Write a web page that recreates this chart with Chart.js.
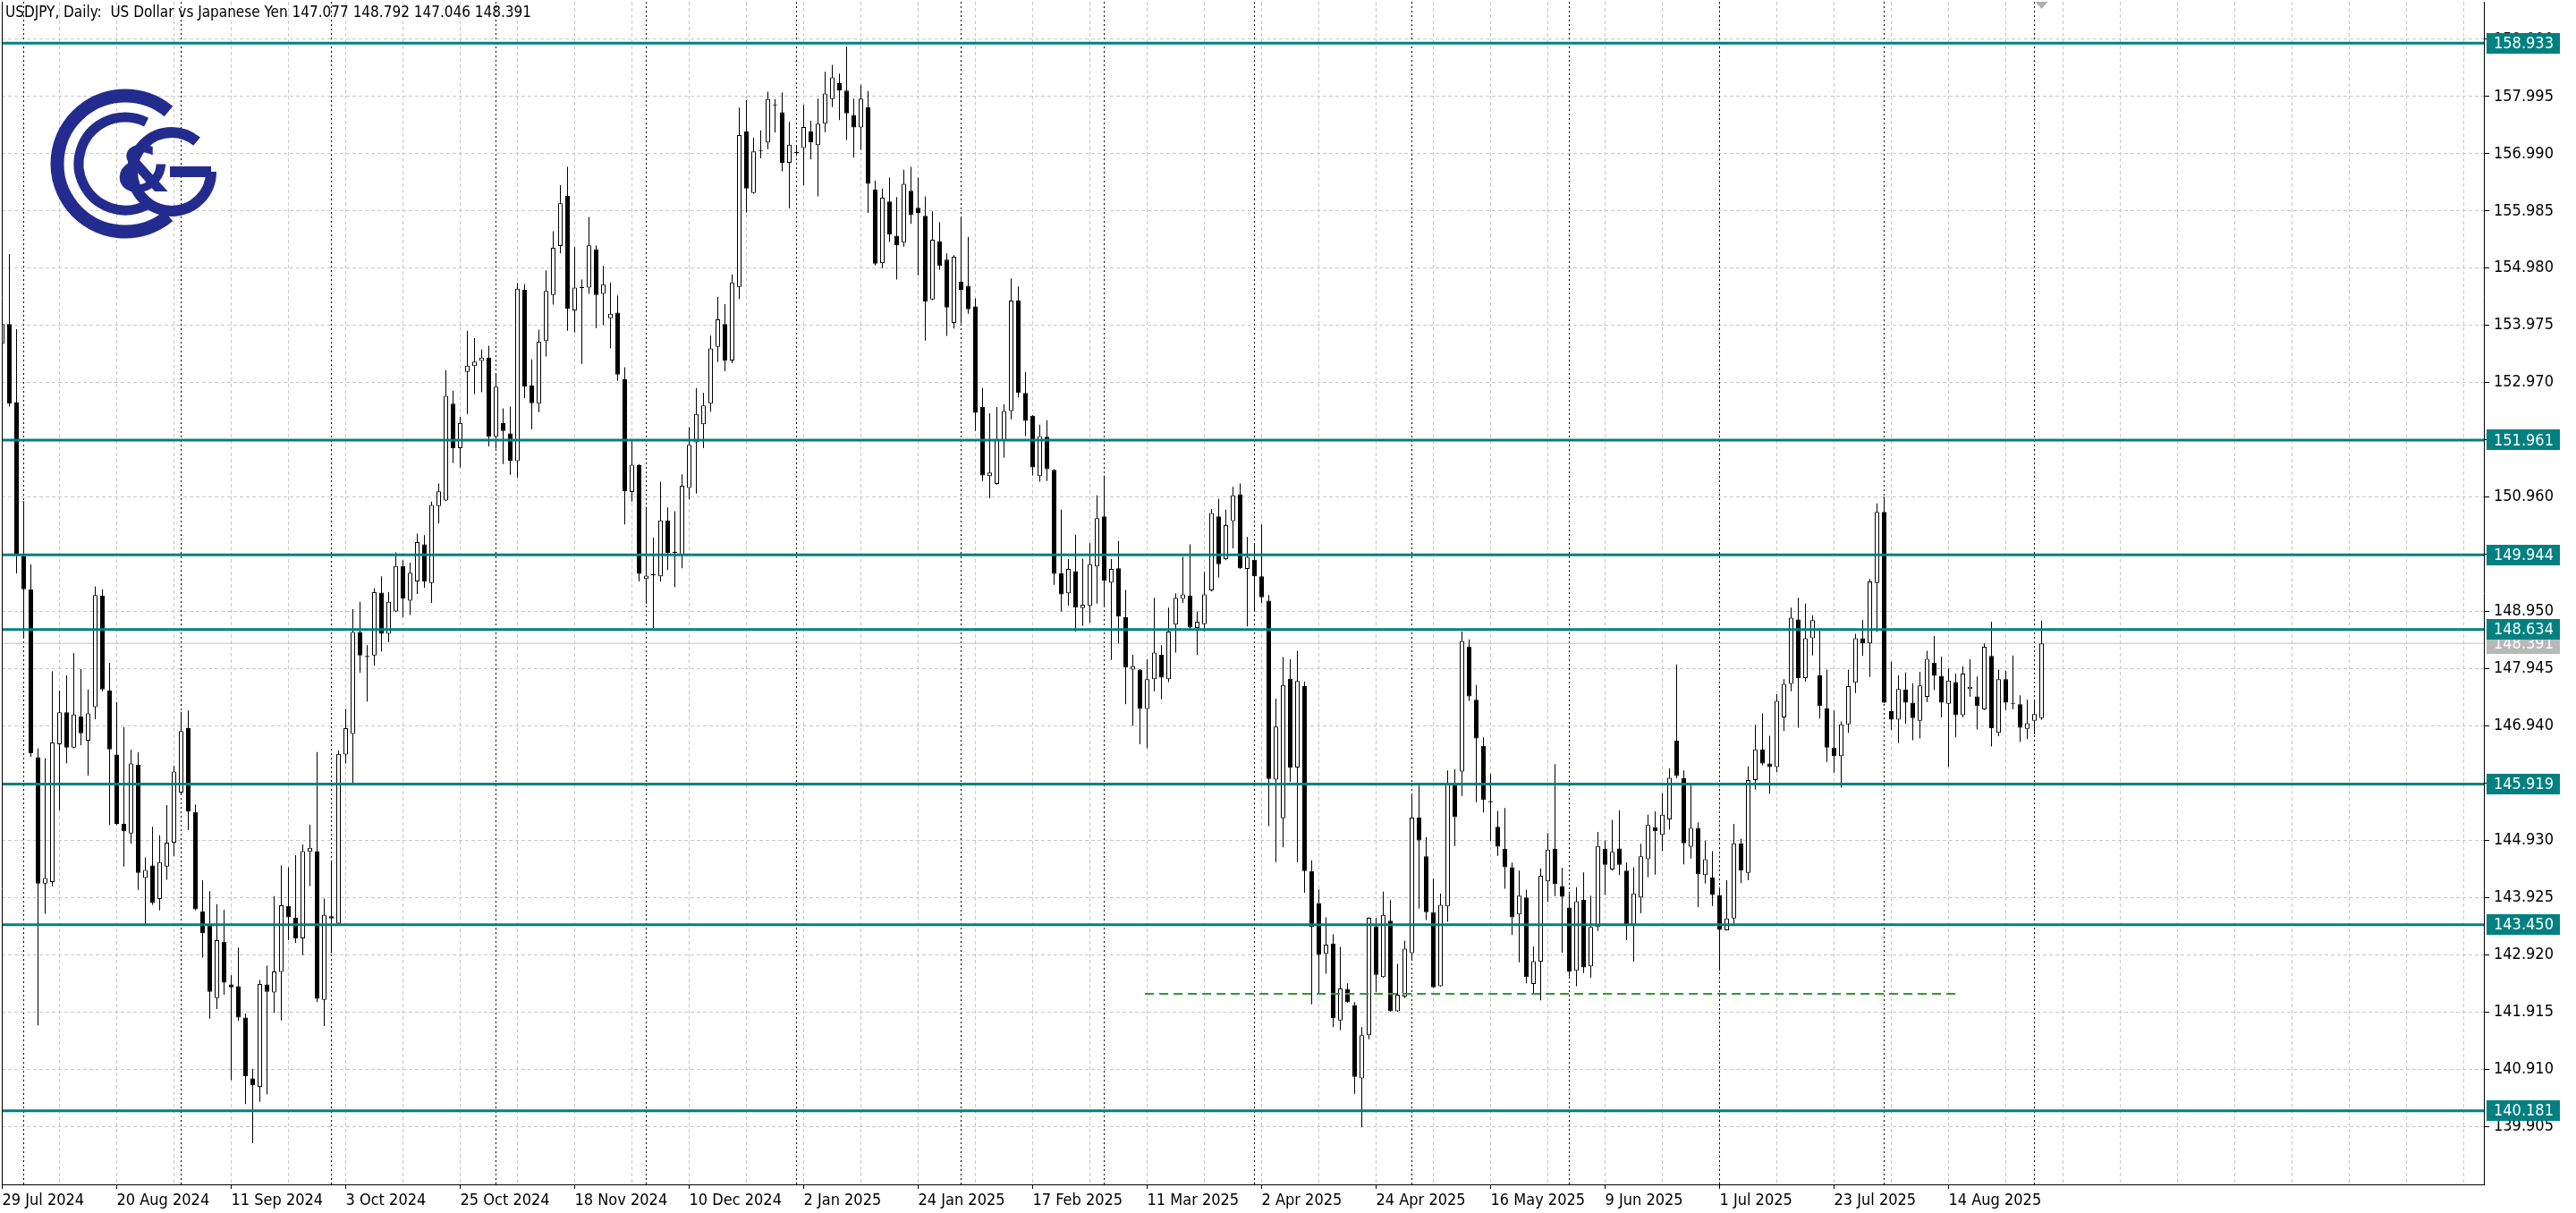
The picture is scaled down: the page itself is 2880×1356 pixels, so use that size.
<!DOCTYPE html>
<html lang="en">
<head>
<meta charset="UTF-8">
<title>USDJPY Daily</title>
<script src="https://cdn.jsdelivr.net/npm/chart.js@4.4.1/dist/chart.umd.min.js"></script>
<style>
  html, body { margin: 0; padding: 0; background: #fff; }
  #wrap { width: 2880px; height: 1356px; }
</style>
</head>
<body>
<div id="wrap"><canvas id="chart" width="2880" height="1356"></canvas></div>
<script>
// ---- data (one entry per daily bar, 29 Jul 2024 .. 2 Sep 2025) ----
const opens = [
  153.65,154.00,152.63,149.92,149.34,146.39,144.17,144.20,146.62,147.18,146.56,147.11,146.68,147.27,149.23,147.56,
  146.44,145.22,145.05,146.26,144.27,144.49,143.90,144.47,144.89,145.77,146.90,145.43,143.68,143.44,142.16,143.15,
  142.40,142.37,141.82,140.75,140.60,142.40,142.26,142.62,143.78,143.57,143.21,144.73,144.74,142.13,143.60,143.47,
  146.44,146.80,148.59,148.17,148.18,149.28,148.56,148.95,149.75,149.14,149.48,150.13,149.45,150.80,150.90,152.60,
  151.82,153.16,153.26,153.35,153.41,152.02,152.26,152.08,151.59,154.60,152.92,152.60,153.70,154.51,155.37,156.25,
  154.24,154.65,154.64,155.31,154.53,154.10,154.20,153.03,151.05,151.52,149.52,149.59,149.57,150.55,149.98,149.93,
  151.12,151.92,152.24,152.60,153.60,154.00,153.36,154.65,157.38,156.30,157.04,157.19,157.85,157.72,156.83,157.02,
  157.09,157.38,157.14,157.52,157.95,158.23,158.10,157.67,157.45,157.81,156.36,155.07,156.15,155.55,155.43,156.34,
  156.04,155.90,154.43,155.45,155.13,154.02,154.74,154.67,154.31,152.54,151.33,151.19,151.95,152.47,154.41,152.79,
  152.39,151.33,152.02,151.44,149.62,149.27,149.66,149.01,149.05,149.74,150.62,149.46,149.71,148.85,147.93,147.93,
  147.24,147.76,148.19,147.76,148.72,149.17,149.23,148.66,148.73,149.32,150.62,149.87,150.54,151.01,149.70,149.86,
  149.57,149.14,146.00,145.32,147.77,146.21,147.64,144.39,143.83,142.94,143.12,141.77,142.32,142.04,140.75,141.51,
  143.42,142.53,143.52,141.93,142.19,142.95,145.33,144.65,143.67,142.37,143.77,145.91,146.14,148.33,147.40,146.59,
  145.62,145.17,144.78,144.46,143.63,143.93,142.41,142.80,144.21,144.78,144.13,143.75,142.64,143.89,142.72,143.41,
  144.78,144.42,144.79,144.40,143.45,143.93,144.60,145.16,145.03,145.30,146.68,146.02,144.82,145.15,144.32,144.28,
  143.97,143.35,143.56,144.88,144.36,145.99,146.53,146.28,146.22,147.09,147.68,148.81,147.78,148.48,147.83,147.25,
  146.56,146.41,146.97,147.70,148.48,148.39,149.45,150.70,147.20,147.05,147.58,147.35,147.03,147.45,148.05,147.82,
  147.33,147.71,147.13,147.59,147.46,147.23,148.17,146.82,147.76,147.34,147.32,146.89,147.03,147.077
];
const highs = [
  154.10,155.23,153.91,150.89,149.78,146.55,146.37,147.90,147.56,147.83,148.22,147.94,147.58,149.39,149.34,148.05,
  147.36,146.92,146.52,146.48,144.63,145.17,145.02,145.55,146.24,147.19,147.21,145.56,144.23,144.04,143.81,143.71,
  142.56,143.05,141.89,140.92,142.48,142.73,143.95,144.49,144.46,144.67,144.86,145.21,146.48,143.91,144.56,146.51,
  147.24,148.99,149.12,148.36,149.36,149.57,149.29,149.99,149.85,149.81,150.32,150.29,150.88,151.20,153.19,152.83,
  152.37,153.88,153.75,153.55,153.62,153.13,152.52,152.55,154.72,154.70,153.38,153.90,154.94,155.63,156.44,156.76,
  155.35,154.78,155.88,155.38,155.02,154.73,154.50,153.24,151.96,151.54,150.79,150.25,151.23,150.78,150.71,151.36,
  152.19,152.87,152.79,153.80,154.48,154.35,154.87,157.80,157.93,157.27,157.40,158.08,157.95,158.07,157.55,157.12,
  157.85,157.57,157.96,158.43,158.55,158.40,158.87,157.96,158.20,158.09,156.52,156.38,156.57,156.23,156.71,156.76,
  156.57,156.24,155.98,155.79,155.24,155.21,155.89,155.53,154.45,152.88,152.43,152.54,152.59,154.80,154.66,153.16,
  152.40,152.23,152.31,151.45,150.74,149.87,150.30,149.88,150.15,150.99,151.34,149.87,150.19,149.33,148.19,147.94,
  148.11,149.19,148.36,149.02,149.27,149.91,150.13,148.95,149.65,150.75,150.93,150.74,151.14,151.20,150.26,150.13,
  150.48,149.24,147.42,148.15,148.11,148.26,147.72,144.58,144.07,143.58,143.28,143.06,142.42,142.09,141.65,143.58,
  143.57,144.03,143.88,142.76,143.17,145.72,145.90,144.99,144.26,144.00,146.16,146.18,148.60,148.46,147.66,146.74,
  146.10,145.45,145.50,144.54,144.40,144.06,143.07,144.44,145.06,146.27,144.45,143.99,144.11,144.37,143.96,145.08,
  144.93,145.29,145.46,144.54,144.46,144.87,145.38,145.44,145.76,146.20,148.02,146.16,145.94,145.25,144.93,144.74,
  144.09,144.23,145.22,144.96,146.23,146.96,147.16,146.77,147.50,147.76,149.02,149.19,149.09,148.88,148.66,147.93,
  147.21,147.02,147.93,148.56,148.80,149.52,150.85,150.97,148.07,147.83,147.88,147.69,147.89,148.26,148.52,148.16,
  147.95,147.86,147.99,148.11,147.81,148.39,148.77,147.93,147.91,148.18,147.48,147.40,147.38,148.792
];
const lows = [
  153.45,152.55,149.62,148.49,146.40,141.68,143.64,144.12,145.46,146.28,146.55,146.60,146.07,147.06,147.55,145.20,
  145.20,144.47,144.87,144.06,143.46,143.80,143.70,144.24,144.65,145.75,145.11,143.70,142.87,141.80,141.97,142.22,
  140.72,141.76,140.30,139.61,140.34,140.47,141.90,141.77,143.18,143.13,142.91,144.13,142.09,141.67,142.95,143.45,
  146.28,145.94,147.87,147.37,148.00,148.25,148.41,148.94,148.85,148.89,149.26,149.37,149.10,150.50,150.89,151.56,
  151.48,152.42,152.77,152.80,151.85,151.81,151.54,151.35,151.30,152.70,152.15,152.45,153.43,154.34,155.24,153.88,
  153.85,153.30,154.53,153.93,153.98,153.57,153.00,150.48,150.88,149.48,149.08,148.66,149.48,149.68,149.38,149.71,
  150.92,151.02,151.82,152.46,153.33,153.17,153.31,154.44,155.96,156.29,156.91,157.07,157.36,156.68,156.03,156.95,
  156.44,156.89,156.24,157.37,157.81,157.58,157.23,156.92,157.06,155.95,155.03,154.98,155.44,154.78,155.36,155.76,
  154.85,153.71,154.42,154.95,153.79,153.92,154.01,154.18,152.12,151.24,150.94,151.18,151.65,152.32,152.71,152.03,
  151.34,151.23,151.24,149.42,148.95,149.05,148.60,148.70,148.75,149.09,149.05,148.10,148.39,147.32,146.94,146.62,
  146.55,147.55,147.41,147.71,148.23,149.10,148.65,148.19,148.60,149.30,149.55,149.85,150.06,149.70,148.69,148.95,
  149.10,145.18,144.55,144.81,145.96,144.55,144.01,142.05,142.24,142.59,141.65,141.60,142.08,140.48,139.89,141.44,
  142.27,142.52,141.92,141.92,142.16,142.84,143.73,143.53,142.34,142.36,143.50,144.83,145.71,147.38,145.60,145.42,
  144.92,144.66,144.08,143.27,142.79,142.42,142.24,142.12,143.85,143.95,142.96,142.54,142.37,142.60,142.52,143.34,
  143.97,144.40,144.32,143.18,142.80,143.65,144.28,144.33,144.74,145.12,146.02,144.51,144.61,143.76,144.17,143.78,
  142.64,143.35,143.47,144.18,144.23,145.82,146.25,145.75,146.13,146.85,147.55,146.91,147.72,148.18,147.07,146.31,
  146.12,145.86,146.82,147.52,148.17,147.80,148.59,147.34,146.87,146.64,146.98,146.69,146.72,147.36,147.57,147.09,
  146.22,146.74,147.09,147.45,146.88,147.22,146.58,146.76,147.22,147.23,146.66,146.71,146.79,147.046
];
const closes = [
  154.00,152.60,149.94,149.34,146.46,144.17,144.27,146.65,147.18,146.56,147.14,146.81,147.16,149.24,147.58,146.53,
  145.22,145.09,146.28,144.36,144.41,143.83,144.55,144.89,146.14,146.85,145.44,143.72,143.30,142.27,143.18,142.43,
  142.35,141.82,140.79,140.63,142.41,142.27,142.63,143.79,143.58,143.21,144.74,144.80,142.15,143.62,143.56,146.45,
  146.90,148.59,148.18,148.15,149.29,148.56,149.12,149.75,149.18,149.63,150.17,149.48,150.82,151.06,152.74,151.82,
  152.26,153.27,153.34,153.41,152.02,152.90,152.12,151.60,154.62,152.90,152.61,153.69,154.58,155.34,156.12,154.27,
  154.64,154.63,155.38,154.51,154.70,154.18,153.11,151.06,151.53,149.61,149.58,149.60,150.55,149.98,150.00,151.16,
  151.88,152.42,152.57,153.57,154.08,153.36,154.73,157.32,156.38,157.03,157.05,157.95,157.84,156.83,157.15,157.00,
  157.46,157.19,157.52,158.05,158.33,158.10,157.70,157.45,157.96,156.46,155.06,156.22,155.57,155.38,156.46,155.92,
  155.95,154.39,155.48,155.02,154.29,155.18,154.60,154.26,152.44,151.34,151.39,151.98,152.47,154.41,152.79,152.30,
  151.48,152.03,151.45,149.61,149.25,149.70,149.02,149.07,149.78,150.59,149.49,149.70,148.86,147.97,147.99,147.24,
  147.76,148.23,147.79,148.60,149.19,149.25,148.67,148.77,149.25,150.68,149.78,150.47,150.99,149.71,149.91,149.57,
  149.20,146.01,146.93,147.66,146.21,147.73,144.39,143.41,142.92,143.10,141.81,142.33,142.09,140.78,141.51,143.57,
  142.57,143.62,141.93,142.22,143.03,145.33,144.93,143.67,142.35,143.80,145.91,145.34,148.43,147.46,146.72,145.64,
  145.60,144.82,144.46,143.58,143.96,142.53,142.81,144.31,144.77,144.16,143.94,142.63,143.86,142.70,143.41,144.83,
  144.50,144.73,144.50,143.46,144.00,144.65,145.20,145.09,145.38,146.03,146.06,144.88,145.15,144.34,144.60,143.97,
  143.36,143.56,144.88,144.40,145.99,146.53,146.28,146.22,147.38,147.68,148.84,147.78,148.48,148.80,147.29,146.56,
  146.41,146.97,147.64,148.48,148.39,149.48,150.70,147.35,147.05,147.59,147.35,147.08,147.65,148.12,147.82,147.35,
  147.74,147.13,147.86,147.63,147.29,148.33,146.90,147.76,147.35,147.33,146.91,146.99,147.15,148.391
];

// x-axis date labels, one every 16 bars
const dateLabels = ['29 Jul 2024','20 Aug 2024','11 Sep 2024','3 Oct 2024','25 Oct 2024','18 Nov 2024',
  '10 Dec 2024','2 Jan 2025','24 Jan 2025','17 Feb 2025','11 Mar 2025','2 Apr 2025','24 Apr 2025',
  '16 May 2025','9 Jun 2025','1 Jul 2025','23 Jul 2025','14 Aug 2025'];
// price scale ticks
const priceTicks = [139.905,140.910,141.915,142.920,143.925,144.930,145.935,146.940,147.945,148.950,
  149.955,150.960,151.965,152.970,153.975,154.980,155.985,156.990,157.995,159.000];
// horizontal levels drawn on the chart
const levelPrices = [158.933,151.961,149.944,148.634,145.919,143.450,140.181];
// bar index of the first bar of each month (period separators)
const monthStarts = [3,25,46,69,90,111,134,154,175,197,219,240,263,284];
// dashed support line: price, from bar, to bar
const supportPrice = 142.236;
const supportFrom = 159.7;
const supportTo = 273.0;
const bidPrice = 148.391;
const titleText = 'USDJPY, Daily:  US Dollar vs Japanese Yen 147.077 148.792 147.046 148.391';

// ---- layout ----
const xMin = -0.0625, xMax = 346.8125;
const yMin = 138.889, yMax = 159.659;
const TEAL = '#008080';
const FONT = 'Tahoma, "DejaVu Sans Condensed", "Liberation Sans", sans-serif';

const idx = opens.map((_, i) => i);
const wickData = idx.map(i => ({x: i, y: [lows[i], highs[i]]}));
const bodyData = idx.map(i => ({x: i, y: [opens[i], closes[i]]}));
const gridBars = [];
for (let v = 0; v <= 344; v += 8) gridBars.push(v);

function hline(price, from, to) {
    return [{x: from, y: price}, {x: to, y: price}];
}

function drawLogo(ctx) {
    ctx.save();
    ctx.strokeStyle = '#232c8e';
    ctx.fillStyle = '#232c8e';
    ctx.lineCap = 'butt';
    // outer C
    ctx.lineWidth = 15;
    ctx.beginPath();
    ctx.arc(140, 183, 76, 0.28 * Math.PI, 1.72 * Math.PI, false);
    ctx.stroke();
    // inner C
    ctx.lineWidth = 11;
    ctx.beginPath();
    ctx.arc(140, 183, 52, 0.35 * Math.PI, 1.65 * Math.PI, false);
    ctx.stroke();
    // G
    ctx.lineWidth = 12;
    ctx.beginPath();
    ctx.arc(192, 192, 44, 0, 1.72 * Math.PI, false);
    ctx.stroke();
    ctx.fillRect(190, 186, 46, 12);
    // &
    ctx.font = 'bold 70px "DejaVu Sans", sans-serif';
    ctx.textAlign = 'center';
    ctx.textBaseline = 'middle';
    ctx.fillText('&', 160, 196);
    ctx.restore();
}

const overlay = {
    id: 'overlay',
    beforeDatasetsDraw(chart) {
        const {ctx, chartArea: a, scales: {x}} = chart;
        ctx.save();
        ctx.strokeStyle = '#000';
        ctx.lineWidth = 1;
        ctx.setLineDash([2, 3]);
        monthStarts.forEach(i => {
            const px = x.getPixelForValue(i);
            ctx.beginPath();
            ctx.moveTo(px, a.top);
            ctx.lineTo(px, a.bottom);
            ctx.stroke();
        });
        ctx.restore();
    },
    afterDraw(chart) {
        const {ctx, chartArea: a, scales: {x, y}} = chart;
        ctx.save();
        // frame
        ctx.strokeStyle = '#000';
        ctx.lineWidth = 1;
        ctx.beginPath();
        ctx.moveTo(a.left + 0.5, a.top);
        ctx.lineTo(a.left + 0.5, a.bottom);
        ctx.stroke();

        // price labels on the right axis
        ctx.font = '18px ' + FONT;
        ctx.textAlign = 'left';
        ctx.textBaseline = 'middle';
        const boxX = a.right + 3, boxW = 82, boxH = 23;
        let py = y.getPixelForValue(bidPrice);
        ctx.fillStyle = '#b8b8b8';
        ctx.fillRect(boxX, Math.round(py - boxH / 2), boxW, boxH);
        ctx.fillStyle = '#fff';
        ctx.fillText(bidPrice.toFixed(3), boxX + 8, py + 1);
        levelPrices.forEach(p => {
            py = y.getPixelForValue(p);
            ctx.fillStyle = TEAL;
            ctx.fillRect(boxX, Math.round(py - boxH / 2), boxW, boxH);
            ctx.fillStyle = '#fff';
            ctx.fillText(p.toFixed(3), boxX + 8, py + 1);
        });

        // title
        ctx.fillStyle = '#000';
        ctx.font = '17px ' + FONT;
        ctx.textBaseline = 'top';
        ctx.fillText(titleText, 6, 6);

        // current bar marker at top
        const mx = x.getPixelForValue(idx.length - 1);
        ctx.fillStyle = '#b0b0b0';
        ctx.beginPath();
        ctx.moveTo(mx - 7, a.top);
        ctx.lineTo(mx + 7, a.top);
        ctx.lineTo(mx, a.top + 8);
        ctx.closePath();
        ctx.fill();
        ctx.restore();

        drawLogo(ctx);
    }
};

new Chart(document.getElementById('chart').getContext('2d'), {
    type: 'bar',
    data: {
        datasets: [
            {
                type: 'line', label: 'bid', data: hline(bidPrice, xMin, xMax),
                borderColor: '#c0c0c0', borderWidth: 1, pointRadius: 0, order: 6
            },
            {
                label: 'wicks', data: wickData, barThickness: 1, grouped: false,
                backgroundColor: '#000', borderWidth: 0, inflateAmount: 0, order: 5
            },
            {
                label: 'bodies', data: bodyData, barThickness: 5, grouped: false, minBarLength: 1,
                backgroundColor: c => (closes[c.dataIndex] >= opens[c.dataIndex] ? '#fff' : '#000'),
                borderColor: '#000', borderWidth: 1, borderSkipped: false, inflateAmount: 0, order: 4
            },
            {
                type: 'line', label: 'support', data: hline(supportPrice, supportFrom, supportTo),
                borderColor: '#2e9b2e', borderWidth: 2, borderDash: [10, 6], pointRadius: 0, order: 3
            },
            ...levelPrices.map(p => ({
                type: 'line', label: p.toFixed(3), data: hline(p, xMin, xMax),
                borderColor: TEAL, borderWidth: 3, pointRadius: 0, order: 1
            }))
        ]
    },
    options: {
        responsive: false,
        animation: false,
        devicePixelRatio: 1,
        layout: { padding: { left: 2, top: 2, right: 0, bottom: 0 } },
        plugins: { legend: { display: false }, tooltip: { enabled: false } },
        scales: {
            x: {
                type: 'linear', min: xMin, max: xMax, offset: false,
                afterBuildTicks: s => { s.ticks = gridBars.map(v => ({value: v})); },
                afterFit: s => { s.height = 32; s.paddingLeft = 0; s.paddingRight = 0; },
                grid: {
                    offset: false, color: '#c8c8c8', lineWidth: 1, tickLength: 5,
                    tickColor: c => (c.tick && c.tick.value % 16 === 0 && c.tick.value / 16 < dateLabels.length ? '#000' : 'rgba(0,0,0,0)')
                },
                border: { display: true, color: '#000', width: 1, dash: [4, 3] },
                ticks: {
                    autoSkip: false, maxRotation: 0, minRotation: 0, align: 'start', padding: 3,
                    color: '#000', font: { family: FONT, size: 18 },
                    callback: v => (v % 16 === 0 && v / 16 < dateLabels.length ? dateLabels[v / 16] : '')
                }
            },
            y: {
                type: 'linear', position: 'right', min: yMin, max: yMax,
                afterBuildTicks: s => { s.ticks = priceTicks.map(v => ({value: v})); },
                afterFit: s => { s.width = 103; s.paddingTop = 0; s.paddingBottom = 0; },
                grid: { color: '#c8c8c8', lineWidth: 1, tickLength: 6, tickColor: '#000' },
                border: { display: true, color: '#000', width: 1, dash: [4, 3] },
                ticks: {
                    padding: 5, color: '#000', crossAlign: 'near',
                    font: { family: FONT, size: 18 },
                    callback: v => v.toFixed(3)
                }
            }
        }
    },
    plugins: [overlay]
});
</script>
</body>
</html>
